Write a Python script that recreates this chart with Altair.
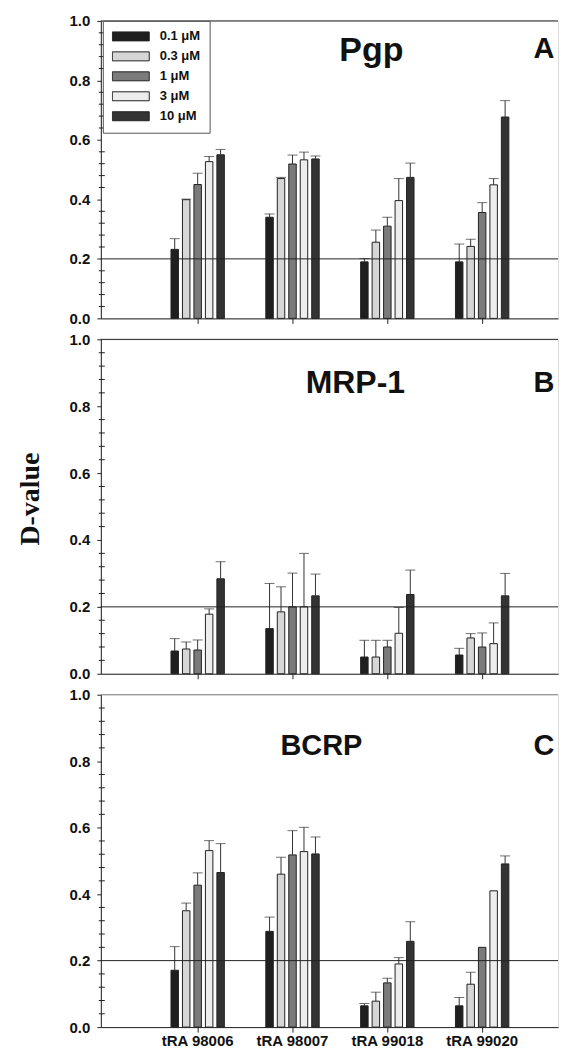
import altair as alt
import pandas as pd

compounds = ["tRA 98006", "tRA 98007", "tRA 99018", "tRA 99020"]
concs = ["0.1 μM", "0.3 μM", "1 μM", "3 μM", "10 μM"]
bar_colors = ["#1f1f1f", "#d6d6d6", "#7b7b7b", "#ededed", "#333333"]

# D-values (mean) per compound, in concentration order
pgp_mean = [
    [0.232, 0.399, 0.450, 0.527, 0.550],
    [0.340, 0.470, 0.519, 0.533, 0.536],
    [0.190, 0.256, 0.310, 0.396, 0.474],
    [0.190, 0.242, 0.356, 0.449, 0.677],
]
pgp_sd = [
    [0.036, 0.002, 0.038, 0.017, 0.018],
    [0.011, 0.004, 0.030, 0.026, 0.010],
    [0.011, 0.041, 0.030, 0.074, 0.048],
    [0.060, 0.024, 0.033, 0.021, 0.055],
]
mrp_mean = [
    [0.068, 0.074, 0.071, 0.178, 0.284],
    [0.135, 0.185, 0.200, 0.200, 0.233],
    [0.050, 0.050, 0.080, 0.121, 0.237],
    [0.056, 0.107, 0.080, 0.090, 0.233],
]
mrp_sd = [
    [0.037, 0.021, 0.030, 0.016, 0.051],
    [0.135, 0.075, 0.101, 0.160, 0.065],
    [0.050, 0.050, 0.020, 0.077, 0.073],
    [0.020, 0.013, 0.042, 0.062, 0.067],
]
bcrp_mean = [
    [0.171, 0.350, 0.427, 0.531, 0.465],
    [0.288, 0.460, 0.518, 0.528, 0.521],
    [0.064, 0.078, 0.133, 0.190, 0.258],
    [0.064, 0.129, 0.240, 0.410, 0.491],
]
bcrp_sd = [
    [0.071, 0.023, 0.037, 0.030, 0.087],
    [0.043, 0.051, 0.073, 0.073, 0.051],
    [0.007, 0.027, 0.014, 0.019, 0.059],
    [0.025, 0.036, 0.000, 0.000, 0.024],
]

panel_names = ["Pgp", "MRP-1", "BCRP"]
panel_letters = ["A", "B", "C"]
reference_level = [0.2]
top_level = [1.0]
y_major = [0.0, 0.2, 0.4, 0.6, 0.8, 1.0]
y_minor = [0.04, 0.08, 0.12, 0.16, 0.24, 0.28, 0.32, 0.36, 0.44, 0.48, 0.52, 0.56,
           0.64, 0.68, 0.72, 0.76, 0.84, 0.88, 0.92, 0.96]

W = 458
heights = [298, 335, 333]
name_pos = [(271, 30), (255, 44), (221, 51)]
name_size = [34, 32, 29]
letter_pos = [(444, 28), (444, 44), (444, 51)]

FONT = "Liberation Sans"


def make_df(means, sds):
    rows = []
    for ci, comp in enumerate(compounds):
        for ki, conc in enumerate(concs):
            m = means[ci][ki]
            s = sds[ci][ki]
            rows.append({"compound": comp, "conc": conc, "mean": m, "sd": s, "upper": m + s})
    return pd.DataFrame(rows)


def panel(idx, means, sds):
    df = make_df(means, sds)
    first = idx == 0
    last = idx == 2
    h = heights[idx]

    x_axis = alt.Axis(
        title=None, labels=last, labelAngle=0, labelFont=FONT, labelFontSize=15,
        labelFontWeight="bold", labelColor="#111", labelPadding=1, tickSize=5,
        tickColor="#222", domainColor="#222", grid=False,
    )
    x = alt.X("compound:N", sort=compounds, axis=x_axis,
              scale=alt.Scale(domain=compounds, paddingInner=0.437,
                              paddingOuter=0.629, align=0.588))
    xo = alt.XOffset("conc:N", sort=concs,
                     scale=alt.Scale(domain=concs, paddingInner=0.348, paddingOuter=0))
    y_axis = alt.Axis(
        values=y_major, format=".1f", labelFont=FONT, labelFontSize=15,
        labelFontWeight="bold", labelColor="#111", labelPadding=7, tickSize=4,
        tickColor="#222", domainColor="#222", grid=False,
        title="D-value", titleFont="Liberation Serif", titleFontSize=28,
        titleFontWeight="bold", titleColor="#111" if idx == 1 else "white",
        titlePadding=25, titleY=h / 2 - 8,
    )
    y = alt.Y("mean:Q", axis=y_axis, scale=alt.Scale(domain=[0, 1], nice=False))

    if first:
        legend = alt.Legend(
            title=None, orient="none", legendX=2, legendY=0, padding=9,
            fillColor="white", strokeColor="#555", cornerRadius=0,
            symbolType="M-1,-0.243H1V0.243H-1Z", symbolSize=1369,
            symbolStrokeColor="#222", symbolStrokeWidth=1, symbolOpacity=1,
            labelFont=FONT, labelFontSize=13, labelFontWeight="bold",
            labelColor="#111", labelOffset=10, rowPadding=6, clipHeight=13,
        )
    else:
        legend = None
    color = alt.Color("conc:N", sort=concs,
                      scale=alt.Scale(domain=concs, range=bar_colors), legend=legend)

    base = alt.Chart(df)
    bars = base.mark_bar(stroke="#222", strokeWidth=1).encode(
        x=x, xOffset=xo, y=y, color=color)
    err = base.transform_filter("datum.sd > 0").mark_rule(
        color="#333", strokeWidth=1).encode(
        x=x, xOffset=xo, y="mean:Q", y2="upper:Q")
    caps = base.transform_filter("datum.sd > 0").mark_tick(
        color="#333", thickness=1, size=10).encode(
        x=x, xOffset=xo, y="upper:Q")
    ref = alt.Chart(pd.DataFrame({"v": reference_level})).mark_rule(
        color="#222", strokeWidth=1).encode(y="v:Q")
    top = alt.Chart(pd.DataFrame({"v": top_level})).mark_rule(
        color="#222" if idx < 2 else "#888", strokeWidth=1).encode(y="v:Q")
    minor = alt.Chart(pd.DataFrame({"v": y_minor})).mark_rule(
        color="#222", strokeWidth=1).encode(
        y="v:Q", x=alt.value(-2), x2=alt.value(4))
    name = alt.Chart(pd.DataFrame({"t": [panel_names[idx]]})).mark_text(
        font=FONT, fontSize=name_size[idx], fontWeight="bold", color="#111",
        align="center", baseline="middle").encode(
        text="t:N", x=alt.value(name_pos[idx][0]), y=alt.value(name_pos[idx][1]))
    letter = alt.Chart(pd.DataFrame({"t": [panel_letters[idx]]})).mark_text(
        font=FONT, fontSize=29, fontWeight="bold", color="#111",
        align="center", baseline="middle").encode(
        text="t:N", x=alt.value(letter_pos[idx][0]), y=alt.value(letter_pos[idx][1]))

    return alt.layer(bars, err, caps, ref, top, minor, name, letter).properties(
        width=W, height=h)


chart = alt.vconcat(
    panel(0, pgp_mean, pgp_sd),
    panel(1, mrp_mean, mrp_sd),
    panel(2, bcrp_mean, bcrp_sd),
    spacing=4,
).resolve_scale(color="independent").properties(
    padding={"left": 7, "top": 4, "right": 0, "bottom": 0}
).configure_view(stroke=None).configure(background="white")

chart.save("out.html", embed_options={"renderer": "svg", "actions": False})
